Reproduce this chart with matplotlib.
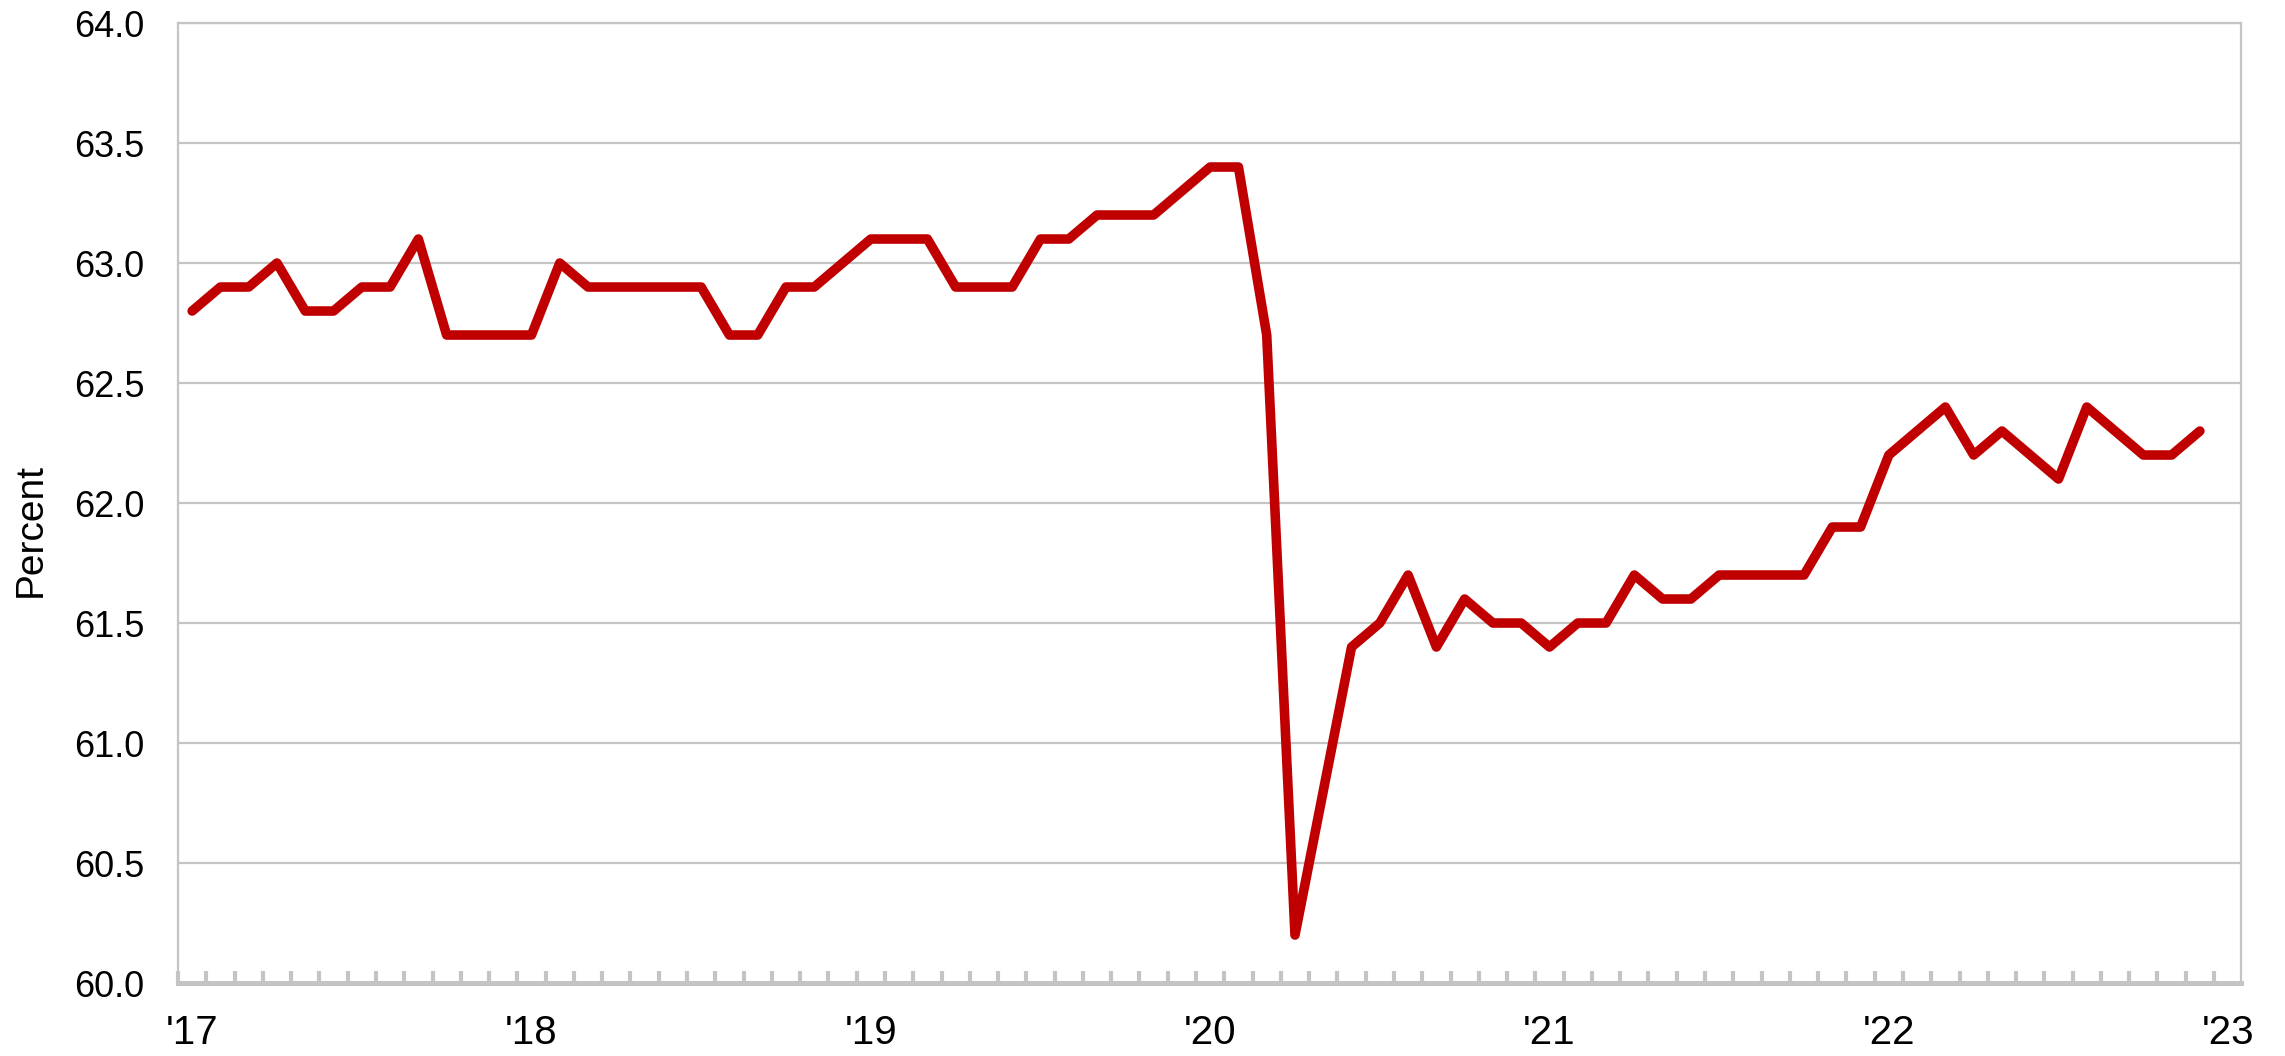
import matplotlib
matplotlib.use("Agg")
import matplotlib.pyplot as plt
import numpy as np
from matplotlib.ticker import FixedLocator, NullFormatter

# Monthly labor force participation rate, Jan 2017 - Dec 2022
rate = [
    62.8, 62.9, 62.9, 63.0, 62.8, 62.8, 62.9, 62.9, 63.1, 62.7, 62.7, 62.7,  # 2017
    62.7, 63.0, 62.9, 62.9, 62.9, 62.9, 62.9, 62.7, 62.7, 62.9, 62.9, 63.0,  # 2018
    63.1, 63.1, 63.1, 62.9, 62.9, 62.9, 63.1, 63.1, 63.2, 63.2, 63.2, 63.3,  # 2019
    63.4, 63.4, 62.7, 60.2, 60.8, 61.4, 61.5, 61.7, 61.4, 61.6, 61.5, 61.5,  # 2020
    61.4, 61.5, 61.5, 61.7, 61.6, 61.6, 61.7, 61.7, 61.7, 61.7, 61.9, 61.9,  # 2021
    62.2, 62.3, 62.4, 62.2, 62.3, 62.2, 62.1, 62.4, 62.3, 62.2, 62.2, 62.3,  # 2022
]
year_labels = ["'17", "'18", "'19", "'20", "'21", "'22", "'23"]
y_ticks = [60.0, 60.5, 61.0, 61.5, 62.0, 62.5, 63.0, 63.5, 64.0]

plt.rcParams["font.family"] = ["Liberation Sans", "DejaVu Sans"]
grey = "#c4c4c4"

fig = plt.figure(figsize=(22.85, 10.56), dpi=100)
ax = fig.add_axes([0.0779, 0.0691, 0.9028, 0.9091])

x = np.arange(len(rate))
ax.plot(x, rate, color="#c00000", linewidth=6.9,
        solid_capstyle="round", solid_joinstyle="round", zorder=3)

ax.set_xlim(-0.5, 72.45)
ax.set_ylim(60.0, 64.0)

ax.set_yticks(y_ticks)
ax.set_yticklabels([f"{v:.1f}" for v in y_ticks])
ax.yaxis.grid(True, color=grey, linewidth=1.6)
ax.tick_params(axis="y", length=0, pad=24, labelsize=26)

ax.set_xticks(np.arange(0, 73, 12))
ax.set_xticklabels(year_labels)
ax.xaxis.set_minor_locator(FixedLocator(np.arange(-0.5, 73, 1.0)))
ax.xaxis.set_minor_formatter(NullFormatter())
ax.tick_params(axis="x", which="major", length=0, pad=22, labelsize=29)
ax.tick_params(axis="x", which="minor", direction="in", length=8.5,
               width=3.0, color=grey)

for side in ["left", "right", "top"]:
    ax.spines[side].set_color(grey)
    ax.spines[side].set_linewidth(1.6)
ax.spines["bottom"].set_color(grey)
ax.spines["bottom"].set_linewidth(3.6)

fig.text(31 / 2285, 1 - 530 / 1056, "Percent", fontsize=28,
         rotation=90, ha="center", va="center")

fig.savefig("out.png", dpi=100)
